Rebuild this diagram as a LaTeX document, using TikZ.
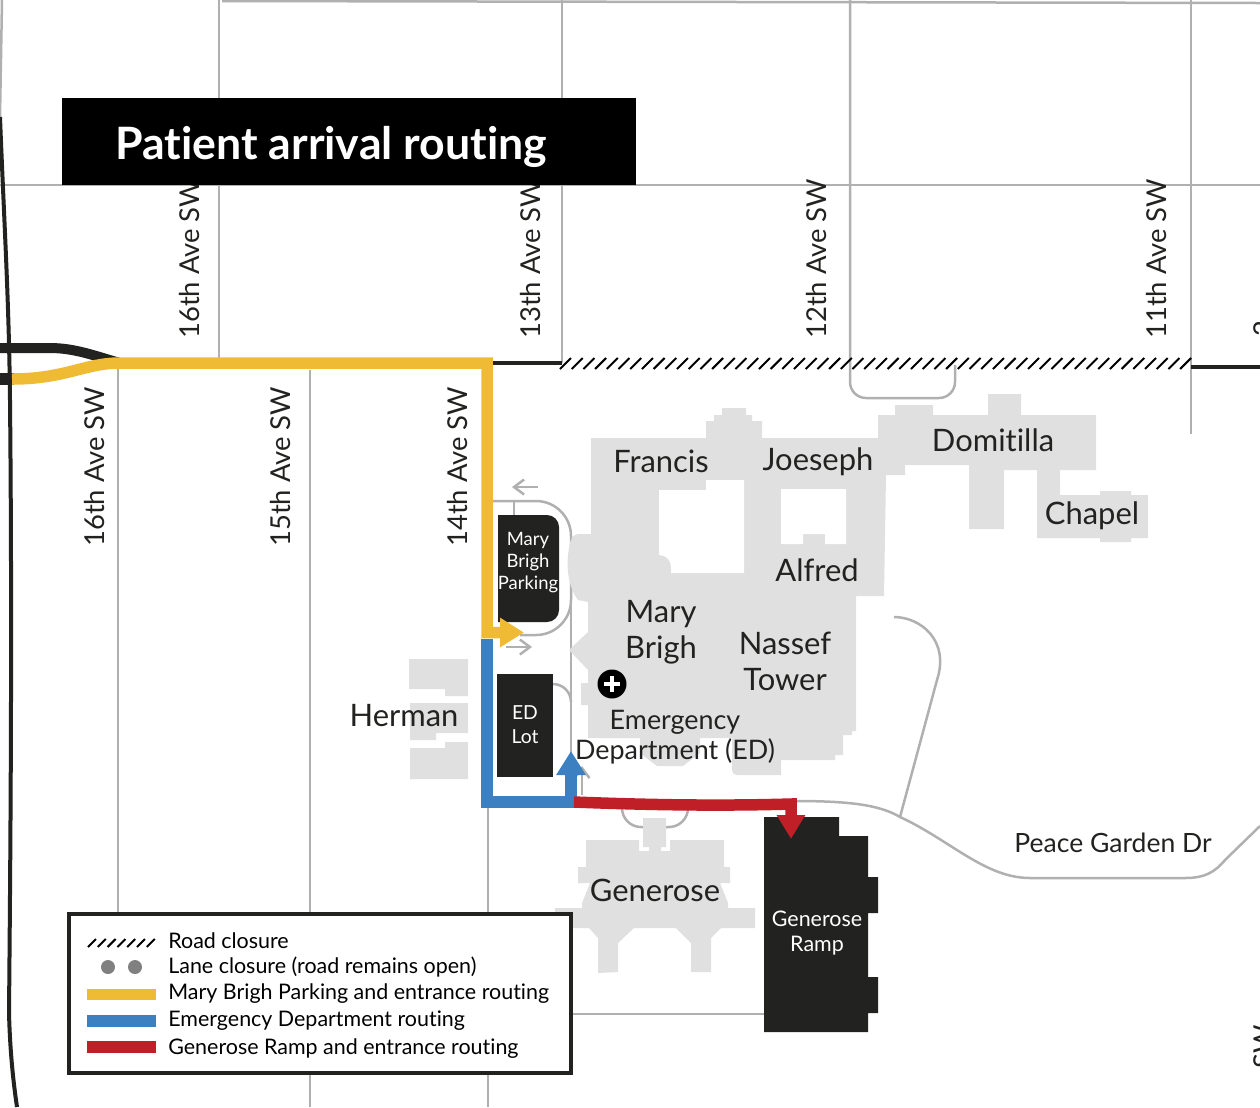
\documentclass[tikz,border=0pt]{standalone}
\usepackage{fontspec}
\setmainfont{Lato}[Ligatures=NoCommon]
\usetikzlibrary{arrows.meta}

\definecolor{roadgray}{HTML}{B0B0B0}
\definecolor{buildgray}{HTML}{DFE0DF}
\definecolor{darkblock}{HTML}{222220}
\definecolor{routeyellow}{HTML}{EFBB35}
\definecolor{routeblue}{HTML}{3C80C2}
\definecolor{routered}{HTML}{C01F28}
\definecolor{dotgray}{HTML}{808080}

\tikzset{
	road/.style={draw=roadgray, line width=0.05cm},
	building/.style={fill=buildgray},
	parking/.style={fill=darkblock},
	highway/.style={draw=darkblock, line width=0.2cm},
	route/.style={line width=0.23cm, line join=miter},
	closure/.style={draw=black, line width=0.04cm},
	namelabel/.style={inner sep=0pt, align=center, text=darkblock, font=\fontsize{17.6}{20.5}\selectfont},
	lotlabel/.style={inner sep=0pt, align=center, text=white, font=\fontsize{10.5}{12.6}\selectfont},
	streetlabel/.style={inner sep=0pt, rotate=90, anchor=west, text=darkblock, font=\fontsize{15.6}{18}\selectfont},
	legendtext/.style={inner sep=0pt, anchor=west, text=black, font=\fontsize{12.2}{14}\selectfont},
}

\begin{document}
\begin{tikzpicture}[x=0.02cm, y=-0.02cm]
	\useasboundingbox (0,0) rectangle (1260,1107);

	\draw[road] (222,1) -- (1260,3);
	\draw[road] (0,185) -- (1260,185);
	\draw[road] (2,0) -- (0,117);
	\draw[road] (219,0) -- (219,360);
	\draw[road] (562,0) -- (562,363);
	\draw[road] (850,0) -- (850,382) arc[start angle=180, end angle=90, radius=16] -- (939,398) arc[start angle=90, end angle=0, radius=16] -- (955,365);
	\draw[road] (1191,0) -- (1191,434);
	\draw[road] (118,365) -- (118,912);
	\draw[road] (310,370) -- (310,1107);
	\draw[road] (488,805) -- (488,1107);
	\draw[road] (490,501) -- (536,501) arc[start angle=-90, end angle=0, radius=35] -- (571,600) arc[start angle=0, end angle=90, radius=35] -- (520,635);
	\draw[road] (514,501) -- (514,516);
	\draw[road] (571,530) -- (571,770);
	\draw[road] (553,684) arc[start angle=-90, end angle=0, radius=18];
	\draw[road] (570,1014) -- (765,1014);
	\draw[road] (622,808) arc[start angle=180, end angle=90, radius=19] -- (669,827) arc[start angle=90, end angle=0, radius=19];
	\draw[road] (795,801) .. controls (850,801) and (880,805) .. (900,817) .. controls (950,840) and (985,878) .. (1030,878) -- (1185,878) .. controls (1205,878) and (1215,872) .. (1225,860) -- (1260,826);
	\draw[road] (900,817) -- (937,680) .. controls (950,640) and (920,617) .. (894,617);
	\draw[road, -{Straight Barb[length=0.2cm, width=0.3cm]}] (538,487) -- (512,487);
	\draw[road, -{Straight Barb[length=0.2cm, width=0.3cm]}] (506,647) -- (532,647);
	\draw[road, -{Straight Barb[length=0.2cm, width=0.3cm]}] (582,795) -- (582,766);

	\path[building] (591,438) -- (706,438) -- (706,421) -- (714,421) -- (714,415) -- (722,415) -- (722,408) -- (746,408) -- (746,415) -- (752,415) -- (752,421) -- (762,421) -- (762,438)
		-- (878,438) -- (878,415) -- (895,415) -- (895,405) -- (933,405) -- (933,415) -- (988,415) -- (988,394) -- (1021,394) -- (1021,415) -- (1096,415) -- (1096,470) -- (1060,470) -- (1060,495)
		-- (1100,495) -- (1100,491) -- (1131,491) -- (1131,495) -- (1148,495) -- (1148,538) -- (1131,538) -- (1131,542) -- (1100,542) -- (1100,538) -- (1037,538) -- (1037,470) -- (1004,470) -- (1004,529) -- (969,529) -- (969,465) -- (905,465) -- (905,475) -- (886,475)
		-- (884,596) -- (856,596) -- (856,731) -- (852,731) -- (852,735) -- (843,735) -- (843,755) -- (835,755) -- (835,760) -- (781,760) -- (781,775) -- (737,775) .. controls (734,775) and (732,773) .. (732,770) -- (732,738)
		-- (700,738) -- (700,753) -- (683,766) -- (657,766) -- (640,753) -- (640,738) -- (588,738) -- (588,705) -- (581,705) -- (581,683) -- (588,683) -- (588,670) -- (569,650) -- (588,632) -- (588,602) -- (578,600)
		.. controls (570,590) and (565,570) .. (569,548) .. controls (570,540) and (573,534) .. (578,534) -- (591,534) -- cycle;
	\path[fill=white] (659,490) -- (706,490) -- (706,480) -- (744,480) -- (744,573) -- (671,573) -- (671,567) .. controls (671,560) and (666,555) .. (659,555) -- cycle;
	\path[fill=white] (781,489) -- (846,489) -- (846,544) -- (825,544) -- (825,534) -- (803,534) -- (803,544) -- (781,544) -- cycle;
	\path[building] (643,818) -- (666,818) -- (666,847) -- (661,847) -- (661,851) -- (670,851) -- (670,840) -- (724,840) -- (724,867) -- (730,867) -- (730,883) -- (720,883) -- (728,903) -- (728,908) -- (755,908) -- (755,928) -- (721,928) -- (711,938) -- (711,972) -- (691,972) -- (691,943) -- (676,928) -- (634,928) -- (618,943) -- (618,972) -- (598,973) -- (598,938) -- (589,928) -- (555,928) -- (555,908) -- (582,908) -- (582,903) -- (590,883) -- (578,883) -- (578,867) -- (586,867) -- (586,840) -- (639,840) -- (639,851) -- (649,851) -- (649,847) -- (643,847) -- cycle;
	\path[building] (409,659) -- (468,659) -- (468,696) -- (445,696) -- (445,689) -- (409,689) -- cycle;
	\path[building] (410,703) -- (468,703) -- (468,733) -- (436,733) -- (436,740) -- (410,740) -- cycle;
	\path[building] (410,748) -- (445,748) -- (445,742) -- (468,742) -- (468,779) -- (410,779) -- cycle;

	\path[parking] (764,817) -- (839,817) -- (839,836) -- (868,836) -- (868,877) -- (878,877) -- (878,913) -- (868,913) -- (868,977) -- (878,977) -- (878,1013) -- (868,1013) -- (868,1032) -- (764,1032) -- cycle;
	\path[parking] (498,515) -- (547,515) arc[start angle=-90, end angle=0, radius=12] -- (559,610) arc[start angle=0, end angle=90, radius=12] -- (498,622) -- cycle;
	\path[parking] (497,674) rectangle (553,777);

	\coordinate (westA) at (0,348);
	\coordinate (westB) at (0,379);
	\coordinate (merge) at (120,363);
	\coordinate (turnMB) at (487,363);
	\coordinate (cornerMB) at (487,632.5);
	\coordinate (tipMB) at (524,632.5);
	\coordinate (startED) at (487,639);
	\coordinate (cornerED) at (487,802);
	\coordinate (footED) at (571,802);
	\coordinate (tipED) at (571,751);
	\coordinate (startGR) at (574,802);
	\coordinate (cornerGR) at (791,804);
	\coordinate (tipGR) at (791,839);

	\draw[draw=darkblock, line width=0.08cm] (0,117) .. controls (4,220) and (9,300) .. (10,400) .. controls (12,600) and (11,800) .. (9,1013) .. controls (10,1050) and (13,1080) .. (17,1107);
	\draw[highway] (westA) -- (50,348) .. controls (75,348) and (95,356) .. (merge);
	\draw[highway, line width=0.24cm] (westB) -- (14,379);
	\draw[darkblock, line width=0.07cm] (turnMB) -- (562,363);
	\draw[darkblock, line width=0.07cm] (1191,367) -- (1260,367);
	\foreach \n in {0,...,53}
		\draw[closure] ({560+\n*11.7},369) -- ++(11,-11);

	\draw[route, routeyellow, -{Triangle[length=0.48cm, width=0.56cm]}] (12,379) .. controls (65,379) and (85,363) .. (merge) -- (turnMB) -- (cornerMB) -- (tipMB);
	\draw[route, routeblue, -{Triangle[length=0.48cm, width=0.56cm]}] (startED) -- (cornerED) -- (footED) -- (tipED);
	\draw[route, routered, -{Triangle[length=0.48cm, width=0.54cm]}] (startGR) .. controls (650,805) and (720,806) .. (cornerGR) -- (tipGR);

	\node[circle, fill=black, minimum size=0.58cm, inner sep=0pt] (edmark) at (612,684) {};
	\draw[white, line width=0.09cm] (edmark.center) ++(-8,0) -- ++(16,0);
	\draw[white, line width=0.09cm] (edmark.center) ++(0,-8) -- ++(0,16);

	\node[namelabel] (francis) at (661,461) {Francis};
	\node[namelabel] (joeseph) at (818,462) {Joeseph};
	\node[namelabel] (domitilla) at (993,440) {Domitilla};
	\node[namelabel] (chapel) at (1092,516) {Chapel};
	\node[namelabel] (alfred) at (817,570) {Alfred};
	\node[namelabel] (marybrigh) at (661,632) {Mary\\Brigh};
	\node[namelabel] (nassef) at (785,661) {Nassef\\Tower};
	\node[namelabel, font=\fontsize{15.3}{16.8}\selectfont] (emergency) at (675,737) {Emergency\\Department (ED)};
	\node[namelabel] (herman) at (404,716) {Herman};
	\node[namelabel] (generose) at (655,890) {Generose};
	\node[namelabel, font=\fontsize{15.1}{18}\selectfont] (peace) at (1113,843) {Peace Garden Dr};
	\node[lotlabel] (mbparking) at (528,562.5) {Mary\\Brigh\\Parking};
	\node[lotlabel, font=\fontsize{11}{13.7}\selectfont] (edlot) at (525,725) {ED\\Lot};
	\node[lotlabel, font=\fontsize{12.2}{14.7}\selectfont] (genramp) at (817,933) {Generose\\Ramp};

	\node[streetlabel] (aveA) at (190,339) {16th Ave SW};
	\node[streetlabel] (aveB) at (531,339) {13th Ave SW};
	\node[streetlabel] (aveC) at (817,339) {12th Ave SW};
	\node[streetlabel] (aveD) at (1156,339) {11th Ave SW};
	\node[streetlabel] (aveE) at (95,547) {16th Ave SW};
	\node[streetlabel] (aveF) at (281,547) {15th Ave SW};
	\node[streetlabel] (aveG) at (458,547) {14th Ave SW};
	\node[streetlabel] (aveH) at (1264,337) {2};
	\node[streetlabel] (aveI) at (1264,1069) {SW};

	\path[fill=black] (62,98) rectangle (636,185);
	\node[inner sep=0pt, anchor=west, text=white, font=\fontsize{25.4}{28}\selectfont\bfseries] (title) at (115,147) {Patient arrival routing};

	\path[fill=white, draw=darkblock, line width=0.08cm] (69,914) rectangle (571,1073);
	\coordinate (keyYa) at (87,994.5);
	\coordinate (keyYb) at (156,994.5);
	\coordinate (keyBa) at (87,1021);
	\coordinate (keyBb) at (156,1021);
	\coordinate (keyRa) at (87,1047);
	\coordinate (keyRb) at (156,1047);
	\foreach \n in {0,...,6}
		\draw[closure] ({88+\n*9.8},947) -- ++(8,-8);
	\path[fill=dotgray] (108,967) circle[radius=7];
	\path[fill=dotgray] (135,967) circle[radius=7];
	\draw[route, routeyellow] (keyYa) -- (keyYb);
	\draw[route, routeblue, line width=0.24cm] (keyBa) -- (keyBb);
	\draw[route, routered, line width=0.24cm] (keyRa) -- (keyRb);
	\node[legendtext] (lineA) at (168,941) {Road closure};
	\node[legendtext] (lineB) at (168,967.5) {Lane closure (road remains open)};
	\node[legendtext] (lineC) at (168,993.5) {Mary Brigh Parking and entrance routing};
	\node[legendtext] (lineD) at (168,1020.5) {Emergency Department routing};
	\node[legendtext] (lineE) at (168,1048.5) {Generose Ramp and entrance routing};
\end{tikzpicture}
\end{document}
